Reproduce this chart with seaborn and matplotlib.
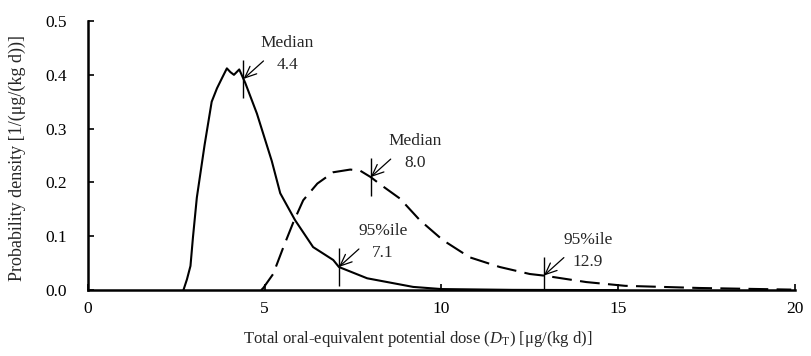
#%% probability density of total oral-equivalent potential dose
import numpy as np
import pandas as pd
import matplotlib
matplotlib.use('Agg')
import matplotlib.pyplot as plt
import seaborn as sns

# solid curve (left distribution)
solid_x = [2.7, 2.8, 2.9, 2.97, 3.08, 3.3, 3.5, 3.65, 3.8, 3.93, 4.03, 4.13, 4.28,
           4.45, 4.78, 5.2, 5.44, 5.86, 6.37, 6.94, 7.1, 7.9, 9.2, 10.0, 12.0, 15.0]
solid_y = [0.0, 0.02, 0.045, 0.098, 0.172, 0.27, 0.35, 0.375, 0.395, 0.412, 0.405, 0.40, 0.41,
           0.385, 0.328, 0.24, 0.18, 0.13, 0.08, 0.056, 0.043, 0.022, 0.006, 0.002, 0.0005, 0.0]

# dashed curve (right distribution)
dashed_x = [4.9, 4.96, 5.24, 5.53, 5.81, 6.09, 6.49, 6.94, 7.42, 7.7, 8.0, 8.3,
            8.83, 9.39, 10.04, 10.8, 11.65, 12.5, 12.9, 14.1, 15.2, 17.3, 19.9]
dashed_y = [0.0, 0.004, 0.03, 0.08, 0.126, 0.167, 0.198, 0.219, 0.224, 0.222, 0.21, 0.195,
            0.17, 0.13, 0.093, 0.061, 0.043, 0.03, 0.027, 0.015, 0.008, 0.004, 0.001]

# marked statistics: (curve, x value, label, value text)
marks = [('solid', 4.4, 'Median', '4.4'),
         ('dashed', 8.0, 'Median', '8.0'),
         ('solid', 7.1, '95%ile', '7.1'),
         ('dashed', 12.9, '95%ile', '12.9')]

x_ticks = [0, 5, 10, 15, 20]
y_ticks = [0.0, 0.1, 0.2, 0.3, 0.4, 0.5]

sns.set_theme(style='ticks')
plt.rcParams['font.family'] = ['Liberation Serif', 'DejaVu Serif']
plt.rcParams['mathtext.fontset'] = 'custom'
plt.rcParams['mathtext.rm'] = 'Liberation Serif'
plt.rcParams['mathtext.it'] = 'Liberation Serif:italic'

df = pd.concat([
    pd.DataFrame({'x': solid_x, 'y': solid_y, 'curve': 'solid'}),
    pd.DataFrame({'x': dashed_x, 'y': dashed_y, 'curve': 'dashed'}),
])

fig = plt.figure(figsize=(8.11, 3.56), dpi=100)
ax = fig.add_axes([0.1085, 0.185, 0.8715, 0.756])

sns.lineplot(data=df, x='x', y='y', hue='curve', style='curve',
             palette={'solid': 'black', 'dashed': 'black'},
             dashes={'solid': '', 'dashed': (9.5, 4)},
             linewidth=1.5, sort=False, legend=False, ax=ax)

curves = {'solid': (solid_x, solid_y), 'dashed': (dashed_x, dashed_y)}
for curve, xv, label, val in marks:
    cx, cy = curves[curve]
    yv = np.interp(xv, cx, cy)
    ax.vlines(xv, yv - 0.035, yv + 0.035, color='black', linewidth=1.0)
    ax.annotate('', xy=(xv, yv), xytext=(20, 18), textcoords='offset pixels',
                arrowprops=dict(arrowstyle='->,head_length=0.7,head_width=0.3',
                                color='black', lw=0.9, shrinkA=0, shrinkB=0))
    ax.annotate(label, xy=(xv, yv), xytext=(44, 36), textcoords='offset pixels',
                ha='center', va='center', fontsize=12.5)
    ax.annotate(val, xy=(xv, yv), xytext=(44, 14), textcoords='offset pixels',
                ha='center', va='center', fontsize=12.5)

ax.set_xlim(0, 20)
ax.set_ylim(0, 0.5)
ax.set_xticks(x_ticks)
ax.set_yticks(y_ticks)
ax.set_yticklabels([f'{v:.1f}' for v in y_ticks])
ax.tick_params(axis='both', direction='in', length=4, width=1.2, labelsize=12.5, colors='black')
ax.tick_params(axis='y', pad=15)
ax.tick_params(axis='x', pad=8)
for s in ['left', 'bottom']:
    ax.spines[s].set_linewidth(1.8)
    ax.spines[s].set_color('black')
sns.despine(ax=ax)

ax.set_xlabel(r'Total oral-equivalent potential dose ($\mathit{D}_\mathrm{T}$) [μg/(kg d)]',
              fontsize=12)
ax.set_ylabel('Probability density [1/(μg/(kg d))]', fontsize=13)
ax.xaxis.set_label_coords(0.467, -0.145)
ax.yaxis.set_label_coords(-0.088, 0.49)

fig.savefig('out.png', dpi=100)
